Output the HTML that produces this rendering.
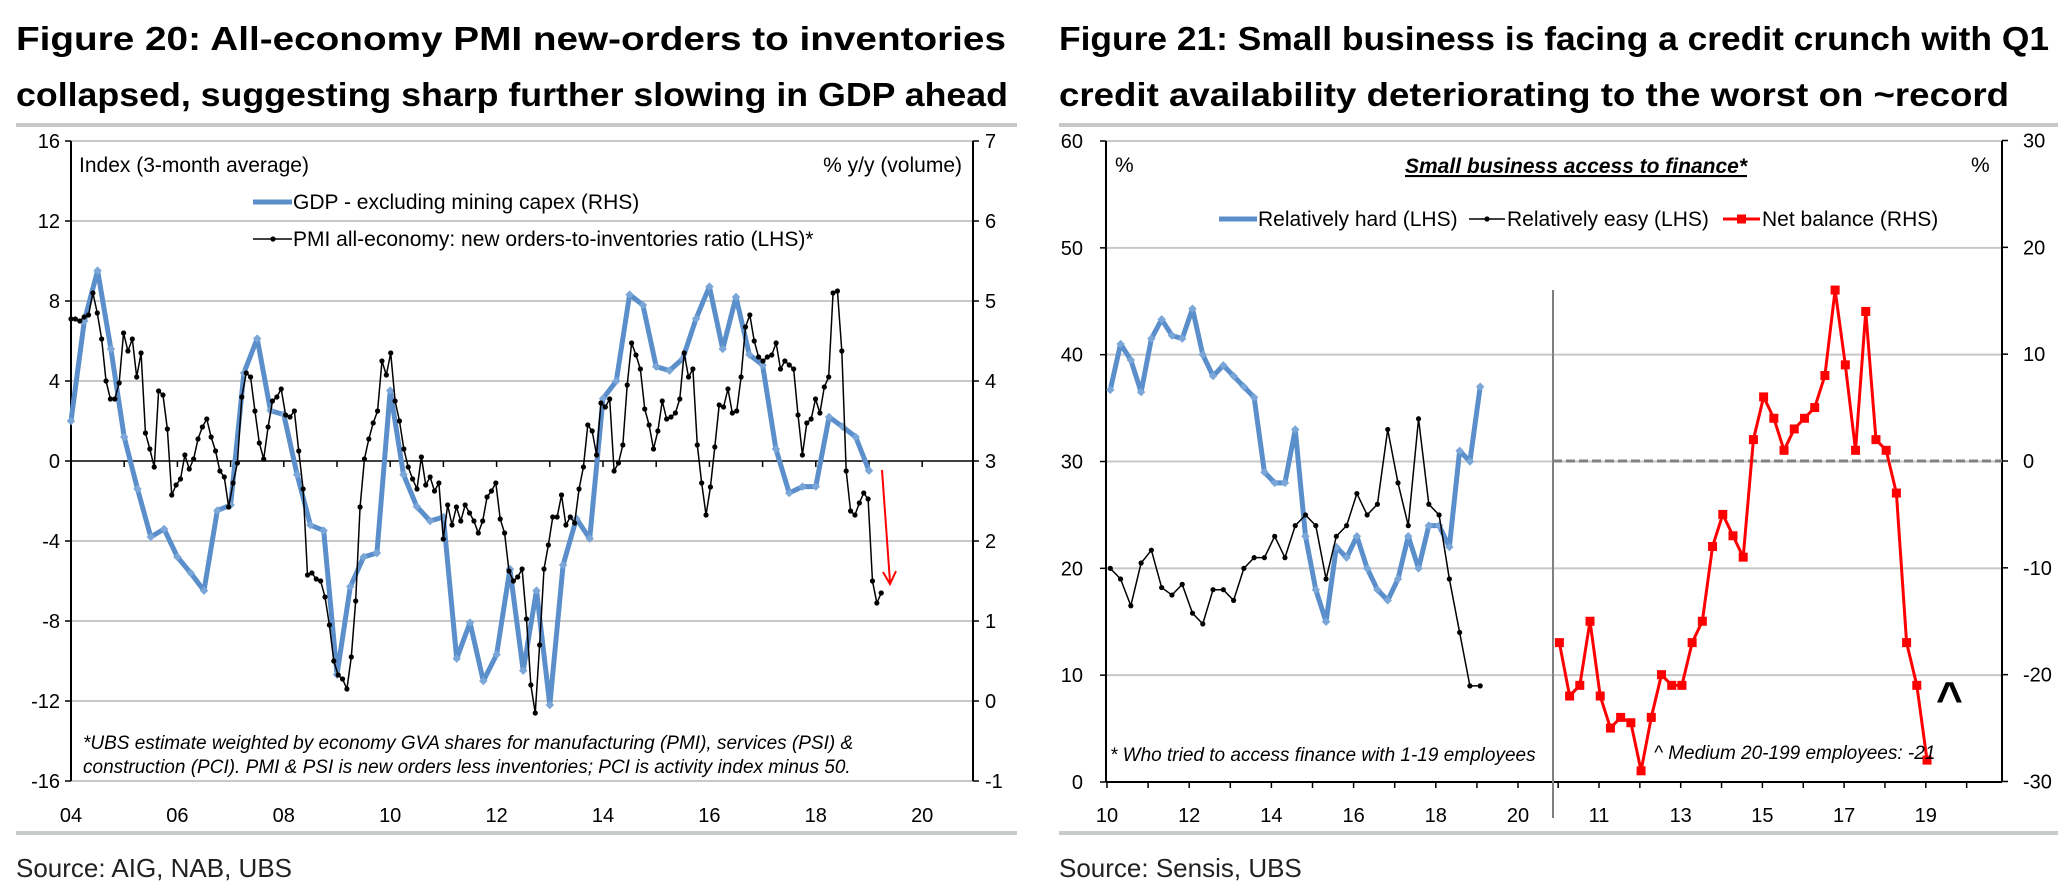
<!DOCTYPE html>
<html><head><meta charset="utf-8"><style>
html,body{margin:0;padding:0;background:#fff;}
svg{display:block;font-family:"Liberation Sans",Arial,sans-serif;}
</style></head><body>
<svg id="svg" width="2058" height="890" viewBox="0 0 2058 890" xmlns="http://www.w3.org/2000/svg">
<g font-weight="bold" font-size="33" fill="#000">
<text x="16" y="50" textLength="990" lengthAdjust="spacingAndGlyphs">Figure 20: All-economy PMI new-orders to inventories</text>
<text x="16" y="106" textLength="992" lengthAdjust="spacingAndGlyphs">collapsed, suggesting sharp further slowing in GDP ahead</text>
</g>
<g font-weight="bold" font-size="33" fill="#000">
<text x="1059" y="50" textLength="990" lengthAdjust="spacingAndGlyphs">Figure 21: Small business is facing a credit crunch with Q1</text>
<text x="1059" y="106" textLength="950" lengthAdjust="spacingAndGlyphs">credit availability deteriorating to the worst on ~record</text>
</g>
<rect x="16" y="123" width="1001" height="4" fill="#c8c8c8"/>
<rect x="1059" y="123" width="999" height="4" fill="#c8c8c8"/>
<rect x="16" y="831" width="1001" height="4" fill="#c8ccc8"/>
<rect x="1059" y="831" width="999" height="4" fill="#c8ccc8"/>
<text x="16" y="877" font-size="26" fill="#222">Source:  AIG, NAB, UBS</text>
<text x="1059" y="877" font-size="26" fill="#222">Source:  Sensis, UBS</text>
<g id="c1"></g>
<g id="c2"></g>
</svg>
<script>
// ---------- Figure 20 data ----------
const gdpStart = 2004.0;
const gdpValues = [3.5,4.75,5.38,4.4,3.3,2.65,2.05,2.15,1.8,1.6,1.38,2.38,2.45,4.1,4.53,3.63,3.58,2.83,2.2,2.13,0.33,1.43,1.8,1.85,3.88,2.83,2.43,2.25,2.3,0.53,0.98,0.25,0.58,1.65,0.38,1.38,-0.05,1.7,2.28,2.03,3.78,4,5.08,4.95,4.18,4.13,4.28,4.78,5.18,4.4,5.05,4.33,4.2,3.15,2.6,2.68,2.68,3.55,3.43,3.3,2.88];
const pmiStart = 2004.0, pmiEnd = 2019.23;
const pmiValues = [7.1,7.1,7.0,7.2,7.3,8.4,7.4,6.1,4.0,3.1,3.1,3.9,6.4,5.5,6.1,4.2,5.4,1.4,0.6,-0.3,3.5,3.3,1.6,-1.7,-1.2,-0.9,0.3,-0.4,0.1,1.1,1.7,2.1,1.2,0.5,-0.5,-0.8,-2.3,-1.1,-0.1,3.2,4.4,4.2,2.5,0.9,0.1,1.7,3.0,3.2,3.6,2.3,2.2,2.5,0.5,-1.4,-5.7,-5.6,-5.9,-6.0,-6.8,-8.2,-10.0,-10.7,-10.9,-11.4,-9.8,-7.0,-2.3,0.1,1.1,1.9,2.5,5.0,4.3,5.4,3.0,2.0,0.6,-0.3,-0.9,-1.4,0.2,-1.2,-0.8,-1.5,-1.1,-3.9,-2.2,-3.2,-2.3,-3.0,-2.2,-2.6,-3.0,-3.6,-3.0,-1.8,-1.5,-1.1,-2.9,-3.6,-5.5,-6.0,-5.8,-5.4,-7.9,-11.2,-12.6,-9.2,-5.4,-4.2,-2.8,-2.8,-1.7,-3.2,-2.8,-3.1,-1.4,-0.3,1.8,1.5,0.3,2.9,2.7,3.1,-0.5,-0.1,0.8,3.8,5.9,5.3,4.6,2.6,1.8,0.6,1.5,3.0,2.1,2.2,2.4,3.1,5.4,4.2,4.6,0.8,-1.1,-2.7,-1.3,0.7,2.8,2.7,3.6,2.4,2.5,4.2,6.7,7.3,6.0,5.2,5.0,5.2,5.3,5.9,4.6,5.0,4.8,4.6,2.3,0.3,1.9,2.1,3.1,2.4,3.7,4.2,8.4,8.5,5.5,-0.5,-2.5,-2.7,-2.1,-1.6,-1.9,-6.0,-7.1,-6.6];
const lhsTicks = [16,12,8,4,0,-4,-8,-12,-16];
const rhsTicks = [7,6,5,4,3,2,1,0,-1];
const xTicks1 = ["04","06","08","10","12","14","16","18","20"];
const xTickYears1 = [2004,2006,2008,2010,2012,2014,2016,2018,2020];

// ---------- Figure 21 data ----------
const hardStart = 2010.08;
const hardValues = [36.7,41,39.5,36.5,41.5,43.3,41.8,41.5,44.3,40,38,39,38,37,36,29,28,28,33,23,18,15,22,21,23,20,18,17,19,23,20,24,24,22,31,30,37];
const easyValues = [20,19,16.5,20.5,21.7,18.2,17.5,18.5,15.8,14.8,18,18,17,20,21,21,23,21,24,25,24,19,23,24,27,25,26,33,28,24,34,26,25,19,14,9,9];
const netStart = 2010.03;
const netValues = [-17,-22,-21,-15,-22,-25,-24,-24.5,-29,-24,-20,-21,-21,-17,-15,-8,-5,-7,-9,2,6,4,1,3,4,5,8,16,9,1,14,2,1,-3,-17,-21,-28];
const lhs2Ticks = [60,50,40,30,20,10,0];
const rhs2Ticks = [30,20,10,0,-10,-20,-30];
const xTicks2a = ["10","12","14","16","18","20"];
const xTickYears2a = [2010,2012,2014,2016,2018,2020];
const xTicks2b = ["11","13","15","17","19"];
const xTickYears2b = [2011,2013,2015,2017,2019];

const NS="http://www.w3.org/2000/svg";
function mk(parent,tag,attrs,text){const e=document.createElementNS(NS,tag);for(const k in attrs)e.setAttribute(k,attrs[k]);if(text!==undefined)e.textContent=text;parent.appendChild(e);return e;}

// ===== Chart 1 =====
(function(){
const g=document.getElementById('c1');
const L=71,R=973,T=141,B=781;
const x=yr=>71+(yr-2004)*53.2;
const yL=v=>461-v*20;
const yR=v=>461-(v-3)*80;
lhsTicks.forEach(v=>{
 if(v!==0&&v!==16){const gl=mk(g,'line',{x1:L,x2:R,y1:yL(v),y2:yL(v),stroke:'#c8c8c8','stroke-width':2});
 
 }
 const t=mk(g,'text',{x:60,y:yL(v)+7,'font-size':20,'text-anchor':'end'},String(v));
 
 
 mk(g,'line',{x1:L-6,x2:L,y1:yL(v),y2:yL(v),stroke:'#000','stroke-width':1.5});
});
mk(g,'line',{x1:L,x2:R,y1:T,y2:T,stroke:'#c8c8c8','stroke-width':2});
rhsTicks.forEach(v=>{
 const t=mk(g,'text',{x:985,y:yR(v)+7,'font-size':20},String(v));
 
 
 mk(g,'line',{x1:R,x2:R+6,y1:yR(v),y2:yR(v),stroke:'#000','stroke-width':1.5});
});
const ax=mk(g,'line',{x1:L,x2:L,y1:T,y2:B,stroke:'#000','stroke-width':2});


const ax2=mk(g,'line',{x1:R,x2:R,y1:T,y2:B,stroke:'#000','stroke-width':2});


const zl=mk(g,'line',{x1:L,x2:R,y1:461,y2:461,stroke:'#000','stroke-width':1.5});


for(let yr=2004;yr<=2020;yr++){mk(g,'line',{x1:x(yr),x2:x(yr),y1:461,y2:467,stroke:'#000','stroke-width':1.5});}
xTicks1.forEach((s,i)=>{
 const t=mk(g,'text',{x:x(xTickYears1[i]),y:822,'font-size':20,'text-anchor':'middle'},s);
 
 
});
// GDP
const gp=gdpValues.map((v,i)=>[x(gdpStart+i*0.25),yR(v)]);
const gl=mk(g,'polyline',{points:gp.map(p=>p.join(',')).join(' '),fill:'none',stroke:'#5b8fcb','stroke-width':5,'stroke-linejoin':'round'});


gp.forEach(p=>{const d=mk(g,'rect',{x:p[0]-3,y:p[1]-3,width:6,height:6,fill:'#7aa6d8',transform:`rotate(45 ${p[0]} ${p[1]})`});
 
 });
// PMI
const n=pmiValues.length,step=(pmiEnd-pmiStart)/(n-1);
const pp=pmiValues.map((v,i)=>[x(pmiStart+i*step),yL(v)]);
const pl=mk(g,'polyline',{points:pp.map(p=>p.join(',')).join(' '),fill:'none',stroke:'#000','stroke-width':1.5});


pp.forEach(p=>{const c=mk(g,'circle',{cx:p[0],cy:p[1],r:2.6,fill:'#000'});
 
 });
// arrow
const ar=mk(g,'g',{});


mk(ar,'line',{x1:882,y1:470,x2:890,y2:582,stroke:'#f00','stroke-width':2});
mk(ar,'polyline',{points:'883,572 890,584 896,571',fill:'none',stroke:'#f00','stroke-width':2});
})();

// ===== Chart 2 =====
(function(){
const g=document.getElementById('c2');
const L=1106,R=2002,T=141,B=782,DIV=1553;
const xa=yr=>1107+(yr-2010)*41.1;
const xb=yr=>1599+(yr-2011)*40.85;
const yL=v=>782-v*10.683;
const yR=v=>461-v*10.683;
lhs2Ticks.forEach(v=>{
 if(v!==0){const gl=mk(g,'line',{x1:L,x2:R,y1:yL(v),y2:yL(v),stroke:'#c8c8c8','stroke-width':2});
 
 }
 const t=mk(g,'text',{x:1083,y:yL(v)+7,'font-size':20,'text-anchor':'end'},String(v));
 
 
 mk(g,'line',{x1:L-6,x2:L,y1:yL(v),y2:yL(v),stroke:'#000','stroke-width':1.5});
});
rhs2Ticks.forEach(v=>{
 const t=mk(g,'text',{x:2023,y:yR(v)+7,'font-size':20},String(v));
 
 
 mk(g,'line',{x1:R,x2:R+6,y1:yR(v),y2:yR(v),stroke:'#000','stroke-width':1.5});
});
const a1=mk(g,'line',{x1:L,x2:L,y1:T,y2:B,stroke:'#000','stroke-width':2});


const a2=mk(g,'line',{x1:R,x2:R,y1:T,y2:B,stroke:'#000','stroke-width':2});


const xa0=mk(g,'line',{x1:L,x2:R,y1:B,y2:B,stroke:'#000','stroke-width':2});


for(let yr=2010;yr<=2020;yr++)mk(g,'line',{x1:xa(yr),x2:xa(yr),y1:B,y2:B+6,stroke:'#000','stroke-width':1.5});
for(let yr=2010;yr<=2020;yr++)mk(g,'line',{x1:xb(yr),x2:xb(yr),y1:B,y2:B+6,stroke:'#000','stroke-width':1.5});
const dv=mk(g,'line',{x1:DIV,x2:DIV,y1:290,y2:818,stroke:'#808080','stroke-width':2});


const dz=mk(g,'line',{x1:DIV,x2:R,y1:yR(0),y2:yR(0),stroke:'#808080','stroke-width':3,'stroke-dasharray':'9,4'});


xTicks2a.forEach((s,i)=>{const t=mk(g,'text',{x:xa(xTickYears2a[i]),y:822,'font-size':20,'text-anchor':'middle'},s);
 
 });
xTicks2b.forEach((s,i)=>{const t=mk(g,'text',{x:xb(xTickYears2b[i]),y:822,'font-size':20,'text-anchor':'middle'},s);
 
 });
// hard
const hp=hardValues.map((v,i)=>[xa(hardStart+i*0.25),yL(v)]);
const hl=mk(g,'polyline',{points:hp.map(p=>p.join(',')).join(' '),fill:'none',stroke:'#5b8fcb','stroke-width':5,'stroke-linejoin':'round'});


hp.forEach(p=>{const d=mk(g,'rect',{x:p[0]-3,y:p[1]-3,width:6,height:6,fill:'#7aa6d8',transform:`rotate(45 ${p[0]} ${p[1]})`});
 
 });
// easy
const ep=easyValues.map((v,i)=>[xa(hardStart+i*0.25),yL(v)]);
const el2=mk(g,'polyline',{points:ep.map(p=>p.join(',')).join(' '),fill:'none',stroke:'#000','stroke-width':1.5});


ep.forEach(p=>{const c=mk(g,'circle',{cx:p[0],cy:p[1],r:2.6,fill:'#000'});
 
 });
// net
const np=netValues.map((v,i)=>[xb(netStart+i*0.25),yR(v)]);
const nl=mk(g,'polyline',{points:np.map(p=>p.join(',')).join(' '),fill:'none',stroke:'#ff0000','stroke-width':3,'stroke-linejoin':'round'});


np.forEach(p=>{const s=mk(g,'rect',{x:p[0]-4.5,y:p[1]-4.5,width:9,height:9,fill:'#ff0000'});
 
 });
})();
</script>
<script>
// static labels
(function(){
const s=document.getElementById('svg');
s.insertAdjacentHTML('beforeend',`
<g font-size="21">
<text x="79" y="172">Index (3-month average)</text>
<text x="962" y="172" text-anchor="end">% y/y (volume)</text>
<g><line x1="253" y1="202" x2="292" y2="202" stroke="#5b8fcb" stroke-width="5"/><text x="293" y="209">GDP - excluding mining capex (RHS)</text></g>
<g><line x1="253" y1="239" x2="292" y2="239" stroke="#000" stroke-width="1.5"/><circle cx="273" cy="239" r="2.6"/><text x="293" y="246">PMI all-economy: new orders-to-inventories ratio (LHS)*</text></g>
<g font-style="italic" font-size="19"><text x="83" y="749">*UBS estimate weighted by economy GVA shares for manufacturing (PMI), services (PSI) &amp;</text><text x="83" y="773">construction (PCI). PMI &amp; PSI is new orders less inventories; PCI is activity index minus 50.</text></g>
</g>
<g font-size="21">
<text x="1115" y="172">%</text>
<text x="1971" y="172">%</text>
<text x="1576" y="173" text-anchor="middle" font-weight="bold" font-style="italic" text-decoration="underline">Small business access to finance*</text>
<g><line x1="1219" y1="219" x2="1257" y2="219" stroke="#5b8fcb" stroke-width="5"/><text x="1258" y="226">Relatively hard (LHS)</text></g>
<g><line x1="1469" y1="219" x2="1505" y2="219" stroke="#000" stroke-width="1.5"/><circle cx="1487" cy="219" r="2.6"/><text x="1507" y="226">Relatively easy (LHS)</text></g>
<g><line x1="1723" y1="219" x2="1760" y2="219" stroke="#f00" stroke-width="3"/><rect x="1737" y="214.5" width="9" height="9" fill="#f00"/><text x="1762" y="226">Net balance (RHS)</text></g>
<text x="1110" y="761" font-style="italic" font-size="19">* Who tried to access finance with 1-19 employees</text>
<text x="1654" y="759" font-style="italic" font-size="19">^ Medium 20-199 employees: -21</text>
<text x="1936" y="714" font-size="46" font-weight="bold">^</text>
</g>`);
})();
</script>
</body></html>
